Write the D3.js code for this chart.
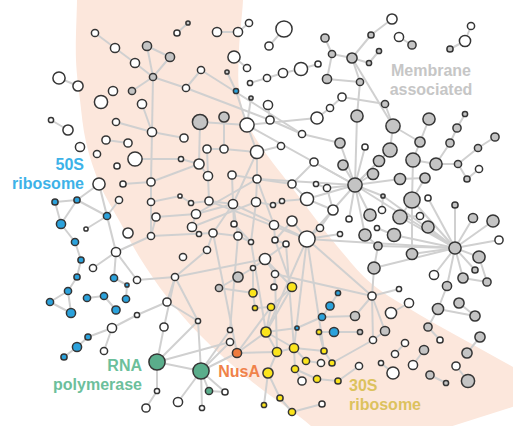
<!DOCTYPE html>
<html>
<head>
<meta charset="utf-8">
<script src="https://cdn.jsdelivr.net/npm/d3@7"></script>
<style>
  body { margin: 0; background: #fff; }
  svg text { font-family: "Liberation Sans", Arial, sans-serif; font-weight: bold; }
</style>
</head>
<body>
<svg id="network"></svg>
<script>
// Canvas
const width = 513;
const height = 426;

// Groups of proteins (o = other, m = membrane associated, l = 50S, s = 30S, r = RNA polymerase, n = NusA)
const groupCodes = ["o", "m", "l", "s", "r", "n"];
const groupColors = ["#ffffff", "#c4c4c4", "#2ba2dc", "#fbe41c", "#5aad8b", "#ef7b3d"];

// Nodes: [layout x, layout y, size, group]
const nodes = [
  [95,33,3.5,"o"],[115,48,4.5,"o"],[147,46,4.5,"m"],[170,57,4.5,"m"],[135,63,4.5,"o"],
  [153,77,3.5,"m"],[59,78,6,"o"],[78,86,5,"o"],[113,91,4.5,"o"],[132,91,3.5,"m"],
  [101,102,6.5,"o"],[142,104,4.5,"o"],[51,120,2.5,"o"],[68,130,5,"o"],[116,122,3.5,"o"],
  [152,132,4.5,"o"],[106,140,4,"o"],[128,143,4,"o"],[188,23,2,"m"],[177,33,3,"o"],
  [217,32,4.5,"o"],[238,32,4.5,"o"],[249,23,3.5,"o"],[284,29,8,"o"],[269,46,4,"o"],
  [325,38,4,"m"],[332,54,3.5,"m"],[234,57,6,"o"],[247,68,3.5,"o"],[201,70,3.5,"o"],
  [227,72,2,"m"],[186,88,3.5,"o"],[236,91,2.5,"l"],[250,83,2.5,"o"],[267,78,3.5,"o"],
  [283,73,4.5,"o"],[301,69,6.5,"o"],[318,64,3,"o"],[327,79,4.5,"m"],[251,98,2,"m"],
  [268,105,4.5,"o"],[270,120,4,"o"],[330,108,3.5,"o"],[317,118,6,"o"],[342,97,4,"o"],
  [200,122,7.5,"m"],[224,117,5,"m"],[247,125,7,"o"],[184,138,4,"o"],[302,134,3.5,"o"],
  [340,143,5,"m"],[392,19,5,"o"],[371,35,3,"m"],[399,37,4.5,"o"],[412,45,4,"m"],
  [379,51,2.5,"m"],[352,58,5,"m"],[369,63,2.5,"m"],[471,26,3.5,"o"],[465,41,5.5,"o"],
  [450,49,3,"m"],[360,82,3.5,"m"],[385,104,3.5,"m"],[357,116,6,"m"],[393,126,7,"m"],
  [429,119,6,"m"],[465,114,2.5,"m"],[457,128,4,"m"],[495,137,4,"m"],[420,142,5,"m"],
  [450,143,4,"m"],[80,147,4.5,"o"],[97,154,3.5,"o"],[135,159,7,"o"],[117,166,3,"o"],
  [99,184,6,"o"],[123,184,3,"o"],[151,182,4,"o"],[119,200,3.5,"o"],[151,202,3.5,"o"],
  [55,202,3,"l"],[77,200,3,"l"],[107,216,3.5,"l"],[156,217,4,"o"],[61,224,4.5,"l"],
  [86,229,2,"o"],[128,233,5,"o"],[151,236,3.5,"o"],[75,242,3.5,"l"],[116,252,4.5,"o"],
  [81,260,3,"l"],[93,268,3.5,"o"],[77,277,3,"l"],[114,278,3.5,"l"],[137,280,3.5,"o"],
  [207,149,4,"o"],[224,149,4,"o"],[257,152,6.5,"o"],[281,146,3.5,"o"],[181,159,2.5,"o"],
  [199,164,5,"o"],[314,162,4,"o"],[343,165,5,"m"],[208,176,4.5,"o"],[232,175,4,"o"],
  [257,179,4,"o"],[292,184,4,"o"],[316,184,2.5,"o"],[327,188,3.5,"o"],[180,196,2,"o"],
  [191,203,2.5,"o"],[209,201,4,"o"],[233,204,4.5,"o"],[256,202,4.5,"o"],[273,205,2.5,"o"],
  [282,201,2.5,"o"],[307,199,6.5,"o"],[333,210,5,"o"],[196,214,4.5,"o"],[234,224,3,"o"],
  [274,225,4.5,"o"],[292,221,5,"o"],[192,227,4.5,"o"],[199,234,2.5,"o"],[213,233,4,"o"],
  [238,236,4,"o"],[275,240,3,"o"],[286,244,3,"o"],[320,228,3.5,"o"],[340,234,2.5,"o"],
  [307,239,8,"o"],[251,242,2.5,"o"],[207,250,3.5,"o"],[183,257,3.5,"o"],[265,259,5.5,"o"],
  [253,268,2.5,"o"],[275,274,3.5,"o"],[175,277,3.5,"o"],[238,277,5,"m"],[365,147,3,"o"],
  [390,150,7,"m"],[478,148,3.5,"m"],[379,161,5.5,"m"],[413,160,7,"m"],[436,164,6,"m"],
  [458,164,3.5,"m"],[479,169,3.5,"o"],[373,174,5.5,"m"],[400,179,5.5,"m"],[425,178,5,"m"],
  [467,179,3,"m"],[355,185,7,"m"],[383,196,2,"m"],[412,200,8,"m"],[428,198,3,"o"],
  [455,205,3,"m"],[370,215,6,"m"],[382,210,3.5,"o"],[400,217,7,"m"],[420,216,3.5,"o"],
  [473,218,4.5,"m"],[493,221,6,"m"],[349,219,3,"o"],[365,235,6,"m"],[377,228,2.5,"o"],
  [394,235,6.5,"m"],[428,227,6,"m"],[378,246,4,"m"],[455,248,6,"m"],[499,240,4,"o"],
  [412,254,5.5,"m"],[479,257,6,"m"],[374,268,6,"m"],[434,275,4.5,"o"],[475,270,3,"m"],
  [463,278,5,"m"],[487,282,4,"m"],[447,286,4.5,"m"],[68,291,3.5,"l"],[50,302,3.5,"l"],
  [71,313,4.5,"l"],[87,298,3.5,"l"],[104,296,3.5,"l"],[126,299,3.5,"l"],[116,310,4,"l"],
  [127,285,2,"l"],[137,315,2.5,"o"],[112,328,4.5,"o"],[167,302,4,"o"],[164,327,4,"o"],
  [88,337,3,"l"],[77,347,4.5,"l"],[64,357,3,"l"],[104,351,3.5,"o"],[157,362,8,"r"],
  [157,391,2.5,"o"],[146,408,4,"o"],[219,288,3.5,"m"],[274,287,3,"o"],[292,287,4.5,"s"],
  [253,293,4,"s"],[255,308,2.5,"s"],[271,307,3.5,"s"],[338,293,2.5,"l"],[330,306,4,"l"],
  [322,317,3.5,"l"],[334,332,4.5,"l"],[297,328,2,"l"],[319,332,2.5,"s"],[198,321,2.5,"o"],
  [230,330,2.5,"o"],[230,342,3.5,"o"],[266,332,5,"s"],[237,353,4.5,"n"],[277,352,4.5,"s"],
  [294,348,4.5,"s"],[324,351,3,"s"],[306,361,3.5,"s"],[321,363,3.5,"o"],[332,363,3,"s"],
  [201,371,8,"r"],[268,373,5,"s"],[295,369,3.5,"s"],[317,379,3.5,"s"],[302,381,4,"o"],
  [338,381,3,"s"],[209,391,3.5,"r"],[225,392,3,"o"],[178,402,4.5,"o"],[202,408,2.5,"o"],
  [280,398,3,"s"],[264,405,2.5,"s"],[322,404,3,"o"],[292,412,3.5,"s"],[399,289,2.5,"o"],
  [372,296,4,"o"],[409,303,4.5,"o"],[391,313,5.5,"o"],[438,309,5.5,"m"],[459,303,5,"m"],
  [475,316,5,"m"],[355,316,4.5,"m"],[428,327,4,"m"],[385,331,4.5,"m"],[360,332,2.5,"m"],
  [373,340,3.5,"o"],[440,340,3,"o"],[480,337,5,"m"],[405,343,3.5,"o"],[424,350,4.5,"m"],
  [467,353,5,"m"],[395,354,3.5,"o"],[359,366,3.5,"o"],[381,363,2.5,"o"],[413,365,4.5,"o"],
  [456,366,4,"o"],[393,373,6,"o"],[430,375,4,"m"],[446,383,2.5,"m"],[468,381,6.5,"m"]
];

// Interactions between nodes (indices into nodes)
const edges = [
  [0,1],[1,4],[2,3],[2,5],[4,5],[5,9],[5,3],[5,15],[6,7],[12,13],[14,15],[11,15],[16,17],
  [15,77],[15,48],[5,31],[29,31],[31,41],[29,49],
  [18,19],[20,21],[21,22],[23,24],[25,26],[26,38],[27,28],[30,32],[32,47],[33,34],[34,35],
  [35,36],[36,37],[40,41],[41,49],[49,50],[42,43],[42,44],[45,100],[46,96],[47,97],[39,47],
  [45,47],[47,43],
  [51,52],[52,56],[53,54],[55,57],[56,57],[56,61],[58,59],[59,60],[62,64],[64,69],[65,69],
  [66,67],[67,70],[26,56],[38,61],[44,62],[61,63],[63,151],[64,140],[69,143],[70,144],
  [68,141],[56,64],
  [151,102],[151,147],[151,142],[151,140],[151,139],[151,148],[151,152],[151,162],[151,163],
  [151,156],[151,168],[151,47],[151,105],[151,116],[151,108],[151,101],[151,130],[151,50],
  [168,153],[168,155],[168,160],[168,161],[168,169],[168,171],[168,174],[168,175],[168,173],
  [168,170],[168,166],[168,165],[168,158],[168,152],[168,130],[168,167],[168,172],[168,177],
  [168,154],
  [143,153],[153,170],[143,144],[144,145],[145,150],[146,150],[141,145],[142,140],[148,149],
  [152,157],[163,167],[164,165],[171,176],[175,176],[172,167],[158,159],[153,158],[153,149],
  [235,234],[235,241],[235,245],[235,243],[236,237],[238,240],[238,177],[239,240],[242,246],
  [247,250],[248,251],[249,254],[253,256],[255,259],[257,258],[243,245],[252,225],[244,206],
  [241,205],[245,219],[235,172],[235,130],[235,136],[238,242],
  [97,105],[97,96],[97,98],[105,104],[105,113],[105,106],[105,120],[95,96],[95,103],[99,100],
  [100,103],[100,77],[103,111],[104,112],[112,111],[112,118],[112,119],[112,124],[112,125],
  [112,97],[112,130],[113,114],[113,131],[114,115],[115,116],[116,117],[116,106],[106,101],
  [107,108],[108,117],[117,128],[128,130],[129,130],[130,121],[121,126],[120,126],[126,127],
  [127,134],[134,135],[135,138],[138,197],[134,136],[131,125],[124,125],[122,123],[118,122],
  [124,132],[119,131],[110,111],[109,110],[111,130],[118,105],[122,113],[79,109],[87,124],
  [83,118],
  [75,81],[75,89],[80,81],[80,84],[81,84],[81,82],[82,85],[84,88],[88,90],[90,92],[92,178],
  [89,91],[89,94],[89,87],[89,93],[76,77],[77,79],[79,87],[83,87],[73,99],[78,82],
  [178,179],[178,180],[179,180],[181,182],[182,184],[183,185],[93,185],[190,191],[191,192],
  [187,190],[187,193],[187,186],[186,188],
  [194,189],[194,195],[194,220],[194,211],[194,209],[195,196],[189,137],[137,188],[137,132],
  [94,137],[137,209],[137,134],
  [220,209],[220,210],[220,213],[220,228],[220,229],[220,226],[220,227],[220,211],[226,227],
  [213,214],[213,212],[213,202],[209,188],[199,202],[199,212],[200,201],[200,197],[201,202],
  [202,212],[212,214],[212,215],[214,215],[215,217],[215,216],[216,219],[217,218],[214,221],
  [221,231],[221,230],[230,233],[233,232],[222,223],[222,215],[223,225],[216,208],[208,206],
  [204,205],[203,204],[205,207],[212,207],[222,224],[134,199],[126,199],[130,212],[131,212],
  [124,213],[125,210],[136,214],[198,136],[135,200],[127,215],[130,215],[130,216]
];

// Background band (layout units)
const bandLeft = [[77,-20],[77,0],[76,60],[80,100],[86,142],[100,185],[120,222],[140,258],
  [167,297],[200,335],[250,380],[311,426],[345,460]];
const bandRight = [[243,-20],[243,0],[239,50],[239,90],[246,120],[258,142],[290,185],
  [342,252],[372,284],[420,315],[470,343],[513,367],[560,392]];

// Group labels: lines of text, anchor point (layout units)
const labels = [
  { lines: ["Membrane", "associated"], x: 431, y: 76, anchor: "middle", color: "#c6c6c6" },
  { lines: ["50S", "ribosome"], x: 84, y: 170, anchor: "end", color: "#3db2e8" },
  { lines: ["RNA", "polymerase"], x: 142, y: 371, anchor: "end", color: "#6cbf9b" },
  { lines: ["NusA"], x: 260, y: 377, anchor: "end", color: "#f0824a" },
  { lines: ["30S", "ribosome"], x: 349, y: 391, anchor: "start", color: "#dcc25e" }
];

const svg = d3.select("#network")
  .attr("width", width)
  .attr("height", height);

const x = d3.scaleLinear().domain([0, 513]).range([0, width]);
const y = d3.scaleLinear().domain([0, 426]).range([0, height]);
const r = d3.scaleLinear().domain([0, 8]).range([0.6, 8.6]);
const color = d3.scaleOrdinal().domain(groupCodes).range(groupColors);

// Peach band
const bandLine = d3.line().x(d => x(d[0])).y(d => y(d[1])).curve(d3.curveCatmullRom);
const bandPath = bandLine(bandLeft) + "L" + bandLine(bandRight.slice().reverse()).slice(1) + "Z";
svg.append("path")
  .attr("d", bandPath)
  .attr("fill", "#fce7dc");

// Edges
svg.append("g")
  .selectAll("line")
  .data(edges)
  .join("line")
  .attr("x1", d => x(nodes[d[0]][0]))
  .attr("y1", d => y(nodes[d[0]][1]))
  .attr("x2", d => x(nodes[d[1]][0]))
  .attr("y2", d => y(nodes[d[1]][1]))
  .attr("stroke", "#d0d0d0")
  .attr("stroke-width", 2);

// Nodes
svg.append("g")
  .selectAll("circle")
  .data(nodes)
  .join("circle")
  .attr("cx", d => x(d[0]))
  .attr("cy", d => y(d[1]))
  .attr("r", d => r(d[2]) - 0.5)
  .attr("fill", d => color(d[3]))
  .attr("stroke", "#353535")
  .attr("stroke-width", 1.5);

// Labels
labels.forEach(l => {
  const t = svg.append("text")
    .attr("x", x(l.x))
    .attr("y", y(l.y))
    .attr("text-anchor", l.anchor)
    .attr("fill", l.color)
    .attr("font-size", 16);
  l.lines.forEach((s, i) => {
    t.append("tspan")
      .attr("x", x(l.x))
      .attr("dy", i === 0 ? 0 : 19)
      .text(s);
  });
});
</script>
</body>
</html>
